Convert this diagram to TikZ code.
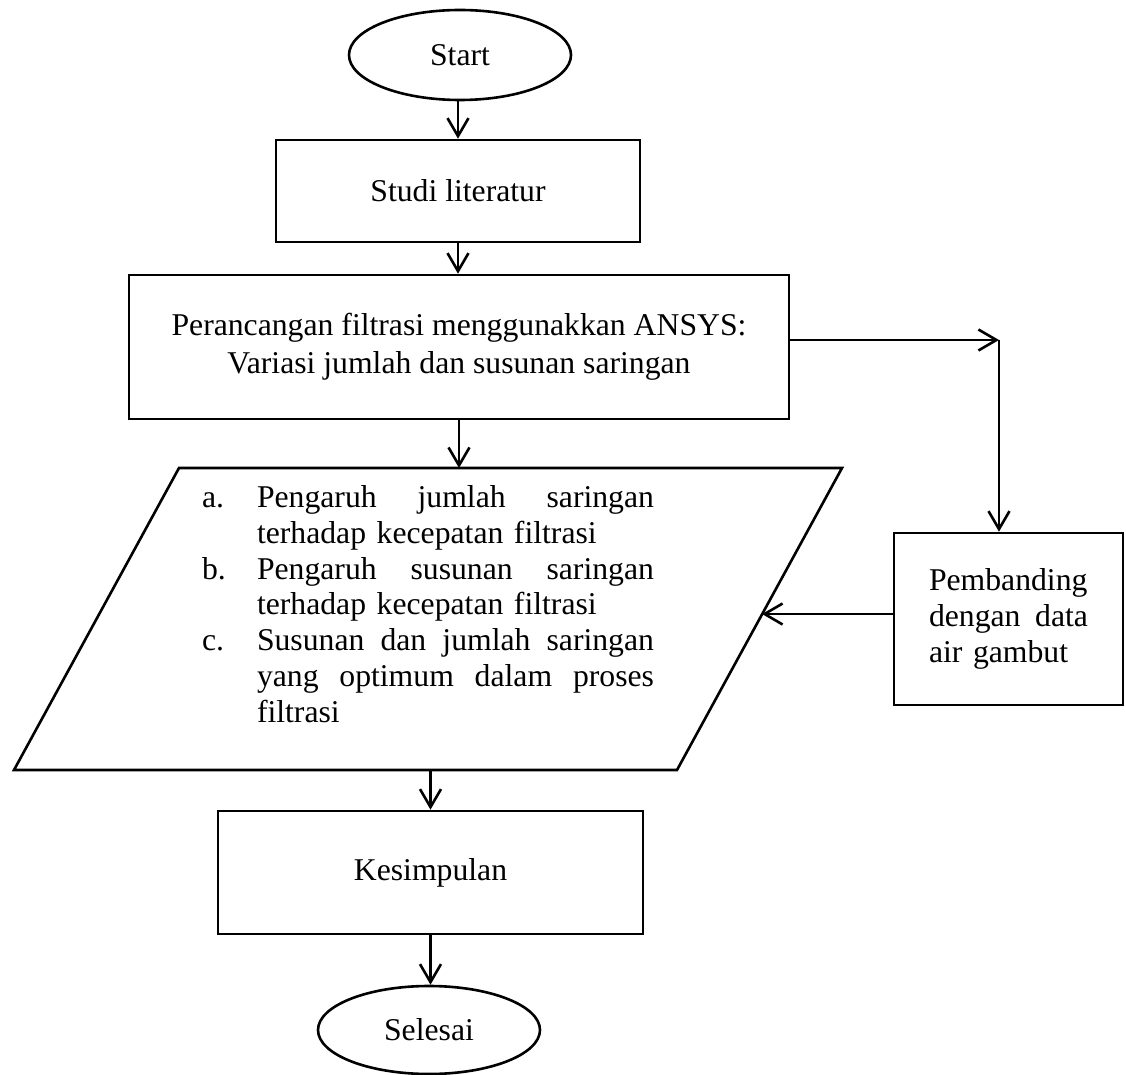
\documentclass[tikz,border=0pt]{standalone}
\usepackage{fontspec}
\setmainfont{Liberation Serif}
\usetikzlibrary{shapes.geometric, arrows.meta}

\newcommand{\lbl}[1]{\makebox[27.5pt][l]{#1}}
\newcommand{\fullline}[1]{\makebox[198.5pt][l]{#1}}

\begin{document}
\begin{tikzpicture}[x=0.5pt, y=-0.5pt,
        every node/.style={font=\fontsize{15.85}{17.9}\selectfont, line width=1.3pt},
        box/.style={draw, rectangle, inner sep=0pt},
        term/.style={draw, ellipse, inner sep=0pt, minimum width=111pt},
        arr/.style={line width=1.3pt, -{Straight Barb[length=9pt, width=10.5pt]}}]
        \useasboundingbox (0,0) rectangle (1126,1075);

        \node[term, minimum height=45pt] (start) at (460, 55) {Start};
        \node[box, minimum width=182pt, minimum height=51pt] (studi) at (458, 191) {Studi literatur};
        \node[box, minimum width=330pt, minimum height=72pt, align=center, font=\fontsize{15.85}{19}\selectfont] (rancang) at (459, 347)
            {Perancangan filtrasi menggunakkan ANSYS:\\ Variasi jumlah dan susunan saringan};
        \node[box, minimum width=114.5pt, minimum height=86pt, text width=79.5pt, align=left] (banding) at (1008.5, 619)
            {Pembanding\\ \makebox[79.5pt][l]{dengan\hfill data}\\ air gambut};

        % parallelogram of the results
        \coordinate (p1) at (14, 770);
        \coordinate (p2) at (677, 770);
        \coordinate (p3) at (842, 468);
        \coordinate (p4) at (179, 468);
        \draw[line width=1.3pt] (p1) -- (p2) -- (p3) -- (p4) -- cycle;
        \node[text width=226pt, align=left, inner sep=0pt] (hasil) at (428, 604)
            {\lbl{a.}\fullline{Pengaruh\hfill jumlah\hfill saringan}\\
             \hspace*{27.5pt}terhadap kecepatan filtrasi\\
             \lbl{b.}\fullline{Pengaruh\hfill susunan\hfill saringan}\\
             \hspace*{27.5pt}terhadap kecepatan filtrasi\\
             \lbl{c.}\fullline{Susunan\hfill dan\hfill jumlah\hfill saringan}\\
             \hspace*{27.5pt}\fullline{yang\hfill optimum\hfill dalam\hfill proses}\\
             \hspace*{27.5pt}filtrasi};

        \node[box, minimum width=212.5pt, minimum height=61.5pt] (simpul) at (430.5, 872.5) {Kesimpulan};
        \node[term, minimum height=44pt] (selesai) at (429, 1030) {Selesai};

        % connectors
        \coordinate (belok) at (999, 340);
        \coordinate (masuk) at (762, 614);
        \draw[arr] (start.south -| studi.north) -- (studi.north);
        \draw[arr] (studi.south) -- (studi.south |- rancang.north);
        \draw[arr] (rancang.south) -- (rancang.south |- p4);
        \draw[arr] (rancang.east |- belok) -- (belok);
        \draw[arr] (belok) -- (belok |- banding.north);
        \draw[arr] (banding.west |- masuk) -- (masuk);
        \draw[arr] (simpul.north |- p1) -- (simpul.north);
        \draw[arr] (simpul.south) -- (simpul.south |- selesai.north);
    \end{tikzpicture}
\end{document}
